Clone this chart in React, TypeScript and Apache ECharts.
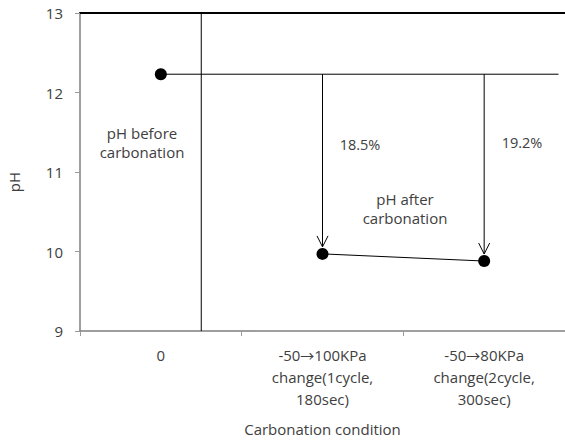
import React, { useEffect, useRef } from "react";
import * as echarts from "echarts";

// Carbonation conditions shown along the x axis
const categories = [
  "0",
  "-50→100KPa\nchange(1cycle,\n180sec)",
  "-50→80KPa\nchange(2cycle,\n300sec)",
];
// pH before carbonation (condition 0) and after each pressure cycle condition
const phBefore = 12.23;
const phAfter = [9.97, 9.88];
const reductionLabels = ["18.5%", "19.2%"];
const yTicks = [9, 10, 11, 12, 13];

const FONT = "'Open Sans', 'Noto Sans', sans-serif";
const TEXT = "#404040";

export default function App() {
  const ref = useRef<HTMLDivElement>(null);

  useEffect(() => {
    if (!ref.current) return;
    const chart = echarts.init(ref.current, undefined, { renderer: "svg" });

    const afterPoints = phAfter.map((v, i) => [i + 1, v]);
    const arrowData = phAfter.map((v, i) => [i + 1, phBefore, v]);

    const labelStyle = { color: TEXT, fontSize: 15, fontFamily: FONT, lineHeight: 22 };

    chart.setOption({
      animation: false,
      backgroundColor: "#ffffff",
      textStyle: { fontFamily: FONT },
      grid: { left: 80, top: 13, right: -2, bottom: 109, containLabel: false },
      xAxis: [
        {
          type: "category",
          data: categories,
          position: "bottom",
          boundaryGap: true,
          axisLine: { show: true, onZero: false, lineStyle: { color: "#7f7f7f", width: 1.5 } },
          axisTick: { show: true, length: 5, lineStyle: { color: "#9a9a9a" } },
          axisLabel: {
            ...labelStyle,
            margin: 13,
            interval: 0,
            // the arrow glyph is taken from a font with a full-width arrow
            formatter: (v: string) => v.replace(/→/g, "{a|→}"),
            rich: {
              a: { ...labelStyle, fontFamily: "'Noto Sans CJK SC', 'DejaVu Sans', sans-serif", fontSize: 14 },
            },
          },
          splitLine: { show: false },
          name: "Carbonation condition",
          nameLocation: "middle",
          nameGap: 90,
          nameTextStyle: { color: TEXT, fontSize: 15, fontFamily: FONT },
        },
        {
          type: "value",
          min: -0.5,
          max: 2.5,
          position: "top",
          axisLine: { show: true, onZero: false, lineStyle: { color: "#000", width: 2 } },
          axisTick: { show: false },
          axisLabel: { show: false },
          splitLine: { show: false },
        },
      ],
      yAxis: {
        type: "value",
        min: yTicks[0],
        max: yTicks[yTicks.length - 1],
        interval: 1,
        axisLine: { show: true, onZero: false, lineStyle: { color: "#7f7f7f", width: 1.5 } },
        axisTick: { show: true, length: 5, lineStyle: { color: "#9a9a9a" } },
        axisLabel: { color: TEXT, fontSize: 15, margin: 17, fontFamily: FONT },
        splitLine: { show: false },
      },
      series: [
        // separator between the untreated sample and the cycled conditions
        {
          type: "line",
          xAxisIndex: 1,
          data: [
            [0.25, yTicks[0]],
            [0.25, yTicks[yTicks.length - 1]],
          ],
          symbol: "none",
          lineStyle: { color: "#000", width: 1 },
          silent: true,
        },
        // reference level of pH before carbonation
        {
          type: "line",
          xAxisIndex: 1,
          data: [
            [0, phBefore],
            [2.46, phBefore],
          ],
          symbol: "none",
          lineStyle: { color: "#000", width: 1 },
          silent: true,
        },
        {
          type: "scatter",
          xAxisIndex: 1,
          data: [[0, phBefore]],
          symbol: "circle",
          symbolSize: 12,
          itemStyle: { color: "#000", opacity: 1 },
        },
        {
          type: "line",
          xAxisIndex: 1,
          data: afterPoints,
          symbol: "circle",
          symbolSize: 12,
          showAllSymbol: true,
          itemStyle: { color: "#000", opacity: 1 },
          lineStyle: { color: "#000", width: 1 },
        },
        // drop arrows from the initial pH to the pH after carbonation
        {
          type: "custom",
          xAxisIndex: 1,
          data: arrowData,
          renderItem: (_params: any, api: any) => {
            const x = api.value(0);
            const start = api.coord([x, api.value(1)]);
            const end = api.coord([x, api.value(2)]);
            const tipY = end[1] - 7;
            const stroke = { stroke: "#000", lineWidth: 1, fill: "none" };
            return {
              type: "group",
              children: [
                {
                  type: "line",
                  shape: { x1: start[0], y1: start[1], x2: start[0], y2: tipY },
                  style: stroke,
                },
                {
                  type: "polyline",
                  shape: {
                    points: [
                      [start[0] - 5.5, tipY - 11],
                      [start[0], tipY],
                      [start[0] + 5.5, tipY - 11],
                    ],
                  },
                  style: stroke,
                },
              ],
            };
          },
        },
      ],
      graphic: [
        {
          type: "text",
          x: 14,
          y: 182,
          rotation: Math.PI / 2,
          style: {
            text: "pH",
            fill: TEXT,
            fontSize: 15,
            fontFamily: FONT,
            align: "center",
            verticalAlign: "middle",
          },
        },
        {
          type: "text",
          x: 142,
          y: 142,
          style: {
            text: "pH before\ncarbonation",
            fill: TEXT,
            fontSize: 15,
            lineHeight: 19,
            fontFamily: FONT,
            align: "center",
            verticalAlign: "middle",
          },
        },
        {
          type: "text",
          x: 405,
          y: 208,
          style: {
            text: "pH after\ncarbonation",
            fill: TEXT,
            fontSize: 15,
            lineHeight: 19,
            fontFamily: FONT,
            align: "center",
            verticalAlign: "middle",
          },
        },
        {
          type: "text",
          x: 360,
          y: 144,
          style: {
            text: reductionLabels[0],
            fill: TEXT,
            fontSize: 14.5,
            fontFamily: FONT,
            align: "center",
            verticalAlign: "middle",
          },
        },
        {
          type: "text",
          x: 522,
          y: 142,
          style: {
            text: reductionLabels[1],
            fill: TEXT,
            fontSize: 14.5,
            fontFamily: FONT,
            align: "center",
            verticalAlign: "middle",
          },
        },
      ],
    });

    return () => chart.dispose();
  }, []);

  return (
    <div
      ref={ref}
      style={{ position: "fixed", left: 0, top: 0, width: 565, height: 441 }}
    />
  );
}
